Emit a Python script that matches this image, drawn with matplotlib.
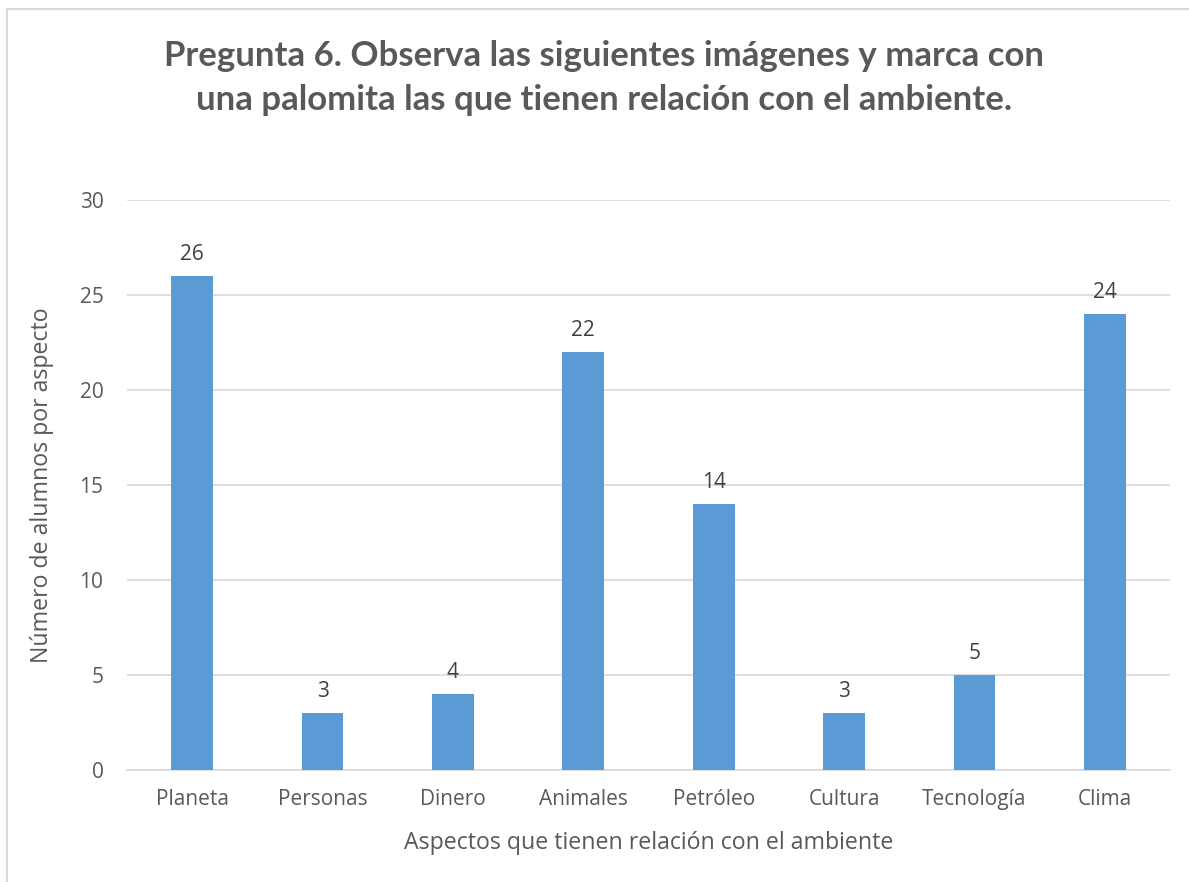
import matplotlib.pyplot as plt
import numpy as np

categories = ['Planeta', 'Personas', 'Dinero', 'Animales', 'Petróleo',
              'Cultura', 'Tecnología', 'Clima']
values = [26, 3, 4, 22, 14, 3, 5, 24]
yticks = [0, 5, 10, 15, 20, 25, 30]

plt.rcParams['font.family'] = ['Open Sans', 'DejaVu Sans']
text_color = '#595959'

fig = plt.figure(figsize=(11.89, 8.82), dpi=100)
ax = fig.add_axes([127 / 1189, 1 - 770 / 882, 1043 / 1189, 570 / 882])

x = np.arange(len(categories))
bars = ax.bar(x, values, width=0.32, color='#5b9bd5', zorder=3)
for rect, v in zip(bars, values):
    ax.annotate(str(v), (rect.get_x() + rect.get_width() / 2, v),
                xytext=(0, 8), textcoords='offset points',
                ha='center', va='bottom', fontsize=15, color='#404040')

ax.set_xlim(-0.5, len(categories) - 0.5)
ax.set_ylim(0, 30)
ax.set_yticks(yticks)
ax.set_xticks(x)
ax.set_xticklabels(categories)
ax.tick_params(axis='both', length=0, labelsize=15, colors=text_color, pad=14)
ax.tick_params(axis='y', pad=17)
ax.yaxis.grid(True, color='#d9d9d9', linewidth=1.2, zorder=0)
for s in ['top', 'right', 'left']:
    ax.spines[s].set_visible(False)
ax.spines['bottom'].set_color('#d9d9d9')
ax.spines['bottom'].set_linewidth(1.2)

ax.set_xlabel('Aspectos que tienen relación con el ambiente', fontsize=16.7,
              color=text_color, labelpad=15)
ax.set_ylabel('Número de alumnos por aspecto', fontsize=16.7,
              color=text_color, labelpad=18)

fig.text(0.508, 1 - 78 / 882,
         'Pregunta 6. Observa las siguientes imágenes y marca con\n'
         'una palomita las que tienen relación con el ambiente.',
         ha='center', va='center', fontsize=25, fontweight='bold',
         family=['Lato', 'DejaVu Sans'],
         color=text_color, linespacing=1.45)

# chart border
fig.add_artist(plt.Line2D([7 / 1189, 7 / 1189], [0, 1 - 9 / 882],
                          color='#d9d9d9', linewidth=1.5))
fig.add_artist(plt.Line2D([7 / 1189, 1], [1 - 9 / 882, 1 - 9 / 882],
                          color='#d9d9d9', linewidth=1.5))

fig.savefig('out.png', dpi=100, facecolor='white')
